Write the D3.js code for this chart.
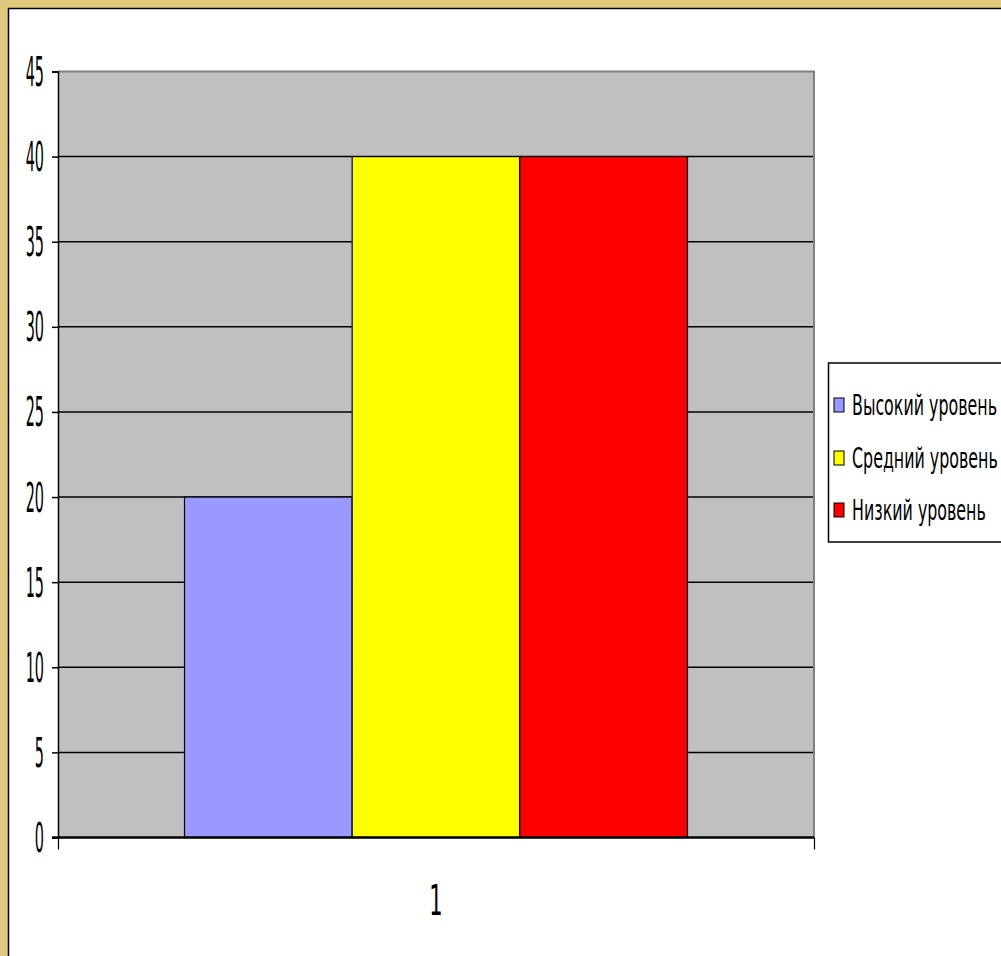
<!DOCTYPE html>
<html><head><meta charset="utf-8">
<script src="https://cdn.jsdelivr.net/npm/d3@7"></script>
<style>html,body{margin:0;padding:0;background:#fff;overflow:hidden}</style>
</head><body>
<svg id="c" width="1001" height="956"></svg>
<script>
const categories = ["1"];
const seriesNames = ["Высокий уровень", "Средний уровень", "Низкий уровень"];
const seriesValues = [20, 40, 40];
const seriesColors = ["#9999FF", "#FFFF00", "#FF0000"];
const yTicks = [0, 5, 10, 15, 20, 25, 30, 35, 40, 45];

const svg = d3.select("#c");
const W = 1001, H = 956;
// frame
svg.append("rect").attr("x",0).attr("y",0).attr("width",W).attr("height",H).attr("fill","#DEC87A");
svg.append("rect").attr("x",8.5).attr("y",8.5).attr("width",W+10).attr("height",H+10)
  .attr("fill","#fff").attr("stroke","#000").attr("stroke-width",1.5);

const pL = 58, pR = 814, pT = 71.5, pB = 837.5;
const y = d3.scaleLinear().domain([0,45]).range([pB, pT]);
const x0 = d3.scaleBand().domain(categories).range([pL, pR]).paddingInner(0).paddingOuter(0.2515);
const x1 = d3.scaleBand().domain(seriesNames).range([0, x0.bandwidth()]);

// plot area
svg.append("rect").attr("x",pL).attr("y",pT).attr("width",pR-pL).attr("height",pB-pT)
  .attr("fill","#C0C0C0");
// gridlines
svg.append("g").selectAll("line").data(yTicks.filter(t=>t>0 && t<45)).join("line")
  .attr("x1",pL).attr("x2",pR).attr("y1",d=>y(d)).attr("y2",d=>y(d))
  .attr("stroke","#000").attr("stroke-width",1.5);
// gray top/right border
svg.append("path").attr("d",`M${pL},${pT}H${pR}V${pB}`).attr("fill","none")
  .attr("stroke","#808080").attr("stroke-width",2);

// bars
const g = svg.append("g");
categories.forEach(c=>{
  g.selectAll("rect.bar").data(seriesNames.map((s,i)=>({s, v:seriesValues[i], col:seriesColors[i]}))).join("rect")
    .attr("class","bar")
    .attr("x",d=>x0(c)+x1(d.s)).attr("width",x1.bandwidth())
    .attr("y",d=>y(d.v)).attr("height",d=>y(0)-y(d.v))
    .attr("fill",d=>d.col).attr("stroke","#000").attr("stroke-width",1.2);
});

// y axis
const yAxis = svg.append("g").attr("transform",`translate(${pL},0)`)
  .call(d3.axisLeft(y).tickValues(yTicks).tickSize(6).tickFormat(""));
yAxis.select(".domain").attr("stroke","#000").attr("stroke-width",1.5);
yAxis.selectAll(".tick line").attr("stroke","#000").attr("stroke-width",1.5);
svg.append("g").selectAll("text").data(yTicks).join("text")
  .attr("transform",d=>`translate(44,${y(d)+14.5}) scale(0.36,1)`)
  .attr("text-anchor","end").attr("font-family","DejaVu Sans").attr("font-size",40)
  .attr("fill","#000").text(d=>d);

// x axis
const xAxis = svg.append("g").attr("transform",`translate(0,${pB})`)
  .call(d3.axisBottom(d3.scaleLinear().domain([0,1]).range([pL,pR])).tickValues([0,1]).tickSize(12).tickFormat(""));
xAxis.select(".domain").attr("stroke","#000").attr("stroke-width",2.5).attr("d",`M${pL-6},0H${pR}`);
xAxis.selectAll(".tick line").attr("stroke","#000").attr("stroke-width",1.2);
svg.append("g").selectAll("text").data(categories).join("text")
  .attr("transform",d=>`translate(${x0(d)+x0.bandwidth()/2},${915}) scale(0.5,1)`)
  .attr("text-anchor","middle").attr("font-family","DejaVu Sans").attr("font-size",42)
  .attr("fill","#000").text(d=>d);

// legend
svg.append("rect").attr("x",828.5).attr("y",363).attr("width",180).attr("height",179)
  .attr("fill","#fff").attr("stroke","#000").attr("stroke-width",1.5);
const lg = svg.append("g");
const rowsY = [405, 458, 510];
const probe = lg.append("text").attr("font-family","DejaVu Sans").attr("font-size",28).text(seriesNames[0]);
const sx = 145 / probe.node().getComputedTextLength();
probe.remove();
seriesNames.forEach((s,i)=>{
  lg.append("rect").attr("x",834).attr("y",rowsY[i]-7).attr("width",10).attr("height",14)
    .attr("fill",seriesColors[i]).attr("stroke","#000").attr("stroke-width",1);
  lg.append("text").attr("transform",`translate(852,${rowsY[i]+10}) scale(${sx},1)`)
    .attr("font-family","DejaVu Sans").attr("font-size",28).attr("fill","#000").text(s);
});
</script>
</body></html>
